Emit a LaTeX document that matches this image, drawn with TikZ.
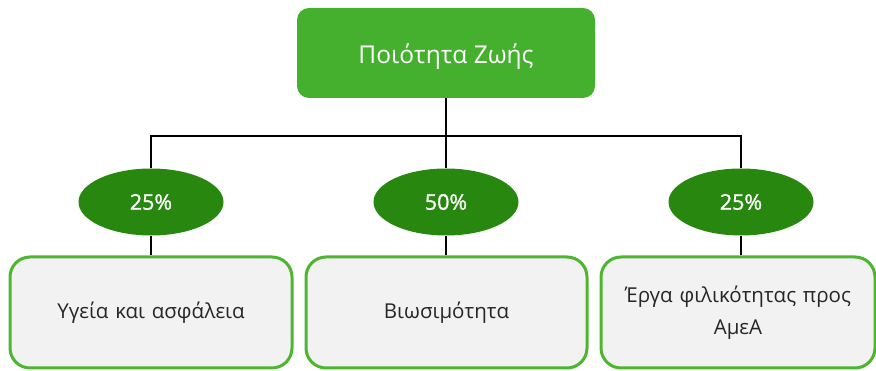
\documentclass[tikz,border=0pt]{standalone}
\usepackage{fontspec}
\setmainfont{Open Sans}
\newfontfamily\pctfont[FakeBold=1.2]{Open Sans}
\usetikzlibrary{shapes.geometric}
\definecolor{topgreen}{HTML}{45B02E}
\definecolor{pctgreen}{HTML}{27870F}
\definecolor{boxline}{HTML}{4DB52F}
\definecolor{boxfill}{HTML}{F2F2F2}
\tikzset{
	titlebox/.style={draw=none, fill=topgreen, rounded corners=12pt, minimum width=298pt, minimum height=90pt, text height=24pt, text depth=3pt, text=white, font=\fontsize{24.5}{28}\selectfont},
	pct/.style={ellipse, fill=pctgreen, minimum width=145pt, minimum height=67pt, inner sep=0pt, text=white, font=\pctfont\fontsize{21.5}{24}\selectfont},
	itembox/.style={draw=boxline, line width=3pt, fill=boxfill, rounded corners=20pt, minimum height=111pt, align=center, text width=260pt, text=black!85, font=\fontsize{20.5}{32}\selectfont},
	link/.style={line width=2pt}
}

\begin{document}
\begin{tikzpicture}[x=1pt, y=-1pt]
		\useasboundingbox (0,0) rectangle (876,371);
		\node[titlebox] (top) at (446,53) {Ποιότητα Ζωής};
		\coordinate (bus) at (446,136);
		
		\node[pct] (p1) at (151,202) {25\%};
		\node[pct] (p2) at (446,202) {50\%};
		\node[pct] (p3) at (741,202) {25\%};
		
		\node[itembox, minimum width=282pt] (b1) at (151,312.5) {Υγεία και ασφάλεια};
		\node[itembox, minimum width=281pt] (b2) at (446.5,312.5) {Βιωσιμότητα};
		\node[itembox, minimum width=274pt] (b3) at (738,312.5) {Έργα φιλικότητας προς\\ΑμεΑ};
		
		\draw[link] (top.south) -- (bus);
		\draw[link] (p1.north) |- (bus) -| (p3.north);
		\draw[link] (bus) -- (p2.north);
		\draw[link] (p1.south) -- (p1.south |- b1.north);
		\draw[link] (p2.south) -- (p2.south |- b2.north);
		\draw[link] (p3.south) -- (p3.south |- b3.north);
		\end{tikzpicture}
\end{document}
